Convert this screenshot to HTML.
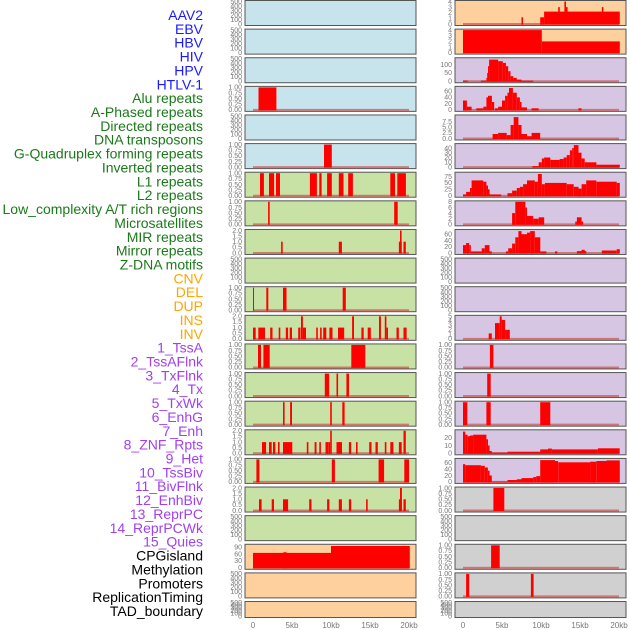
<!DOCTYPE html>
<html><head><meta charset="utf-8"><style>
html,body{margin:0;padding:0;background:#fff;}
svg{display:block;}
.lbl{font-family:"Liberation Sans",sans-serif;font-size:14px;}
.tk{font-family:"Liberation Sans",sans-serif;font-size:7px;fill:#777;}
.xt{font-family:"Liberation Sans",sans-serif;font-size:8px;fill:#777;}
</style></head><body>
<svg id="chart" width="630" height="630" xmlns="http://www.w3.org/2000/svg"></svg>
<script>
const labels = ["AAV2","EBV","HBV","HIV","HPV","HTLV-1","Alu repeats","A-Phased repeats","Directed repeats","DNA transposons","G-Quadruplex forming repeats","Inverted repeats","L1 repeats","L2 repeats","Low_complexity A/T rich regions","Microsatellites","MIR repeats","Mirror repeats","Z-DNA motifs","CNV","DEL","DUP","INS","INV","1_TssA","2_TssAFlnk","3_TxFlnk","4_Tx","5_TxWk","6_EnhG","7_Enh","8_ZNF_Rpts","9_Het","10_TssBiv","11_BivFlnk","12_EnhBiv","13_ReprPC","14_ReprPCWk","15_Quies","CPGisland","Methylation","Promoters","ReplicationTiming","TAD_boundary"];
const labelGroups = [6,13,5,15,5];
const groupColors = ["#1a1aff","#1a7a1a","#ffa500","#a040f0","#000"];
const xTickKb = [0,5,10,15,20];
const xTickLabels = ["0","5kb","10kb","15kb","20kb"];
// tick sets
const T500 = [0,100,200,300,400,500];
const T1 = [0,0.25,0.5,0.75,1];
const T2 = [0,0.5,1,1.5,2];
const T4 = [0,1,2,3,4];
// left column segments [startKb,endKb,value]
const L_alu = [[0.7,3.0,1]];
const L_gquad = [[9.1,10.1,1]];
const L_inv = [[0.9,1.4,1],[2.05,2.7,1],[2.95,3.46,1],[7.3,8.2,1],[8.5,8.8,1],[9.5,10.1,1],[11.0,11.6,1],[12.2,12.8,1],[17.6,18.2,1],[18.5,19.6,1]];
const L_l1 = [[1.93,2.14,1],[18.1,18.55,1]];
const L_l2 = [[3.6,3.8,1],[11.0,11.4,1],[18.7,19.06,1],[18.85,19.06,2],[19.3,19.6,1]];
const L_micro = [[0,0.13,1],[1.7,1.96,1],[3.85,4.3,1],[11.5,11.9,1]];
const L_mir = [[0,0.34,1],[0.68,1.54,1],[2.2,2.5,1],[3.3,3.5,1],[4.2,4.5,1],[4.7,5.0,1],[5.8,6.1,1],[6.15,6.4,2],[6.4,6.8,1],[8.1,8.3,1],[8.6,8.8,1],[9.0,9.4,1],[9.8,10.2,1],[10.9,11.7,1],[12.7,12.95,2],[13.9,14.2,1],[14.7,15.1,1],[16.15,16.4,2],[16.9,17.1,2],[17.1,17.3,1],[18.4,18.7,1],[19.3,19.7,1]];
const L_mirror = [[0.64,1.03,1],[1.33,2.14,1],[12.6,14.4,1]];
const L_zdna = [[9.2,9.75,1],[10.7,10.9,1],[11.97,12.3,1]];
const L_cnv = [[3.85,4.06,1],[4.75,5.0,1],[9.9,10.1,1],[11.45,11.75,1]];
const L_del = [[1.15,1.67,1],[2.05,2.4,1],[2.56,2.86,1],[3.2,3.4,1],[3.85,5.04,1],[6.9,7.1,1],[7.9,8.15,1],[8.5,8.7,1],[9.3,9.65,1],[9.65,9.9,1],[9.9,10.1,2],[10.7,11.4,1],[12.3,12.6,1],[13.2,13.4,1],[14.9,15.2,1],[15.7,16.0,1],[16.9,17.1,1],[17.6,18.0,1],[18.7,19.06,1],[19.3,19.6,2]];
const L_dup = [[0.43,0.81,1],[10.1,10.5,1],[16.1,16.8,1],[19.4,20.0,1]];
const L_ins = [[0.77,1.1,1],[2.4,2.7,1],[3.85,4.5,1],[7.2,7.5,1],[9.5,9.8,1],[11.0,11.4,1],[12.3,12.6,1],[14.5,14.7,1],[18.7,19.06,1],[18.85,19.1,2],[19.3,19.6,1]];
const L_cpg = [[0,10,65],[3.9,4.3,68],[10,20.1,95]];
// right column segments
const R_aav = [[7.5,7.7,1.2],[9.9,10.4,1.2],[10.4,20.1,2.2],[12.2,12.4,3],[13.0,13.2,4],[13.2,13.4,3],[17.8,18.0,3]];
const R_ebv = [[0,10.1,4],[10.1,20.1,2]];
const R_hiv = [[0,0.6,4],[2.3,3.0,4],[3.0,3.1,20],[3.1,3.2,50],[3.2,3.35,90],[3.35,4.5,130],[4.5,5.1,120],[5.1,5.5,110],[5.5,5.8,90],[5.8,6.1,60],[6.1,6.45,30],[6.45,6.9,20],[6.9,7.5,10],[7.5,9.0,4]];
const R_hpv = [[0,0.5,30],[0.5,1.1,10],[1.7,2.6,5],[2.6,3.0,10],[3.0,3.2,40],[3.2,3.7,45],[3.7,4.0,25],[4.1,4.5,5],[4.5,5.0,10],[5.0,5.4,30],[5.4,5.7,45],[5.7,5.9,55],[5.9,6.4,70],[6.4,6.9,55],[6.9,7.3,40],[7.3,7.5,25],[7.5,8.2,8],[8.8,9.7,5],[14.8,15.2,5]];
const R_htlv = [[3.8,4.5,2],[4.5,5.6,2.5],[5.6,6.1,1.5],[6.1,6.5,6],[6.5,7.1,9.5],[7.1,7.5,6],[7.5,8.2,2],[8.2,8.8,1],[8.8,9.9,2.5]];
const R_alu = [[8.9,9.7,2],[9.7,10.1,10],[10.1,10.4,18],[10.4,11.2,20],[11.2,12.4,15],[12.4,12.9,17],[12.9,13.3,20],[13.3,13.7,25],[13.7,14.0,35],[14.0,14.2,40],[14.2,14.8,46],[14.8,15.2,30],[15.2,15.6,18],[15.6,17.1,10],[17.1,20.1,5]];
const R_aph = [[0,0.4,5],[0.4,0.9,15],[0.9,1.1,30],[1.1,2.6,60],[2.6,3.0,55],[3.0,3.2,40],[3.2,3.4,25],[3.4,4.9,5],[5.7,6.3,10],[6.3,6.9,20],[6.9,7.3,30],[7.3,7.7,35],[7.7,8.2,45],[8.2,9.2,60],[9.2,9.6,55],[9.6,10.1,85],[10.1,10.5,45],[10.5,13.3,50],[13.3,14.2,45],[14.2,14.8,35],[14.8,15.2,28],[15.2,15.8,45],[15.8,17.1,60],[17.1,19.7,55],[19.7,20.1,50]];
const R_dir = [[6.3,6.7,4],[6.7,8.0,8],[8.0,8.2,6],[8.2,9.0,3],[9.0,9.7,2],[9.7,10.4,2.5],[14.4,14.6,1],[14.6,15.2,2.5],[15.2,15.4,1]];
const R_dna = [[0,0.4,25],[0.4,0.8,32],[0.8,1.0,25],[1.0,2.4,5],[2.4,2.8,15],[2.8,3.4,25],[3.4,3.7,5],[5.5,5.8,5],[5.8,6.3,15],[6.3,6.7,30],[6.7,7.1,50],[7.1,7.5,70],[7.5,8.2,60],[8.2,8.6,65],[8.6,9.2,70],[9.2,9.9,50],[9.9,10.7,5],[11.8,12.1,5],[14.6,15.8,6],[15.2,15.6,10],[17.8,19.7,8],[19.7,20.1,12]];
const R_ins = [[3.3,3.7,1.2],[4.1,4.7,3.5],[4.7,4.96,5],[4.96,5.4,4.2],[5.4,6.0,2]];
const R_tssa = [[3.45,3.9,1]];
const R_tssafl = [[3.1,3.55,1]];
const R_txfl = [[0,0.55,1],[3.0,3.55,1],[9.9,11.2,1]];
const R_tx = [[0,0.3,28],[0.3,0.6,24],[0.6,0.9,22],[0.9,1.3,23],[1.3,3.0,24],[3.0,3.2,18],[3.2,3.4,10],[3.4,3.7,3],[3.7,5.7,1],[5.7,9.9,2],[9.9,10.9,5],[10.9,11.4,6],[11.4,17.3,5],[17.3,20.1,6.5]];
const R_txwk = [[0,0.3,55],[0.3,2.3,52],[2.3,2.8,50],[2.8,3.2,45],[3.2,3.4,35],[3.4,3.7,20],[3.7,5.7,1],[5.7,6.9,6],[6.9,7.5,8],[7.5,9.0,12],[9.0,9.4,15],[9.4,9.9,18],[9.9,11.8,68],[11.8,12.2,65],[12.2,16.3,61],[16.3,17.1,63],[17.1,18.4,65],[18.4,20.1,67]];
const R_enhg = [[3.9,5.3,1]];
const R_het = [[3.6,4.7,1]];
const R_tssbiv = [[0.4,0.8,1],[8.7,9.05,1]];
// panels: [segments, ymax, ticks, bg]
const BL="#c7e4ec", GR="#c8e1a4", OR="#fed09e", PU="#d6c6e3", GY="#d0d0d0";
const leftPanels = [[null,500,T500,BL],[null,500,T500,BL],[null,500,T500,BL],[L_alu,1,T1,BL],[null,500,T500,BL],[L_gquad,1,T1,BL],
 [L_inv,1,T1,GR],[L_l1,1,T1,GR],[L_l2,2,T2,GR],[null,500,T500,GR],[L_micro,1,T1,GR],[L_mir,2,T2,GR],[L_mirror,1,T1,GR],[L_zdna,1,T1,GR],[L_cnv,1,T1,GR],[L_del,2,T2,GR],[L_dup,1,T1,GR],[L_ins,2,T2,GR],[null,500,T500,GR],
 [L_cpg,98,[0,30,60,90],OR],[null,500,T500,OR],[null,500,T500,OR]];
const rightPanels = [[R_aav,4,T4,OR],[R_ebv,4,T4,OR],[R_hiv,135,[0,50,100],PU],[R_hpv,72,[0,20,40,60],PU],[R_htlv,10,[0,2.5,5,7.5],PU],[R_alu,47,[0,10,20,30,40],PU],[R_aph,88,[0,25,50,75],PU],[R_dir,8,[0,2,4,6,8],PU],[R_dna,72,[0,20,40,60],PU],[null,500,T500,PU],[null,500,T500,PU],[R_ins,5,[0,1,2,3,4,5],PU],[R_tssa,1,T1,PU],[R_tssafl,1,T1,PU],[R_txfl,1,T1,PU],[R_tx,29,[0,10,20],PU],[R_txwk,70,[0,20,40,60],PU],
 [R_enhg,1,T1,GY],[null,500,T500,GY],[R_het,1,T1,GY],[R_tssbiv,1,T1,GY],[null,500,T500,GY]];

const NS="http://www.w3.org/2000/svg";
const svg=document.getElementById('chart');
function mk(tag,attrs,parent){const e=document.createElementNS(NS,tag);for(const k in attrs)e.setAttribute(k,attrs[k]);(parent||svg).appendChild(e);return e;}
// labels
let li=0;
labelGroups.forEach((n,g)=>{for(let j=0;j<n;j++){const t=mk('text',{x:203,y:(20+li*13.86).toFixed(1),'text-anchor':'end',class:'lbl',fill:groupColors[g]});


t.textContent=labels[li];li++;}});
const PW=171, KB=7.8;
function fmt(v,ticks){const d=ticks.some(x=>x%1!==0)?(ticks.includes(0.25)?2:1):0;return v.toFixed(d);}
function drawCol(panels,px){
 panels.forEach((p,i)=>{
  const top=i*28.62+0.5, h=(i===21?16:25);
  const g=mk('g',{});
  
  
  mk('rect',{x:px,y:top,width:PW,height:h,fill:p[3],stroke:'#555','stroke-width':1},g);
  const y0=top+h-1.5, yt=top+1;
  const ys=v=>y0-v/p[1]*(y0-yt);
  const xs=k=>px+8+k*KB;
  p[2].forEach(v=>{const t=mk('text',{x:px-3,y:(ys(v)+2.3).toFixed(1),'text-anchor':'end',class:'tk'},g);
   
   
   t.textContent=fmt(v,p[2]);});
  if(p[0]){
   mk('line',{x1:xs(0),x2:xs(20),y1:y0,y2:y0,stroke:'#d05050','stroke-width':2,opacity:0.7},g);
   p[0].forEach(s=>{const r=mk('rect',{x:xs(s[0]).toFixed(1),y:ys(s[2]).toFixed(1),width:Math.max(1,(s[1]-s[0])*KB).toFixed(1),height:(y0-ys(s[2])+0.5).toFixed(1),fill:'#ff0000'},g);
    
    });
  }
 });
 xTickKb.forEach((k,j)=>{const t=mk('text',{x:px+8+k*KB,y:628,'text-anchor':'middle',class:'xt'});
  
  
  t.textContent=xTickLabels[j];});
}
drawCol(leftPanels,245);
drawCol(rightPanels,455);
</script>
</body></html>
